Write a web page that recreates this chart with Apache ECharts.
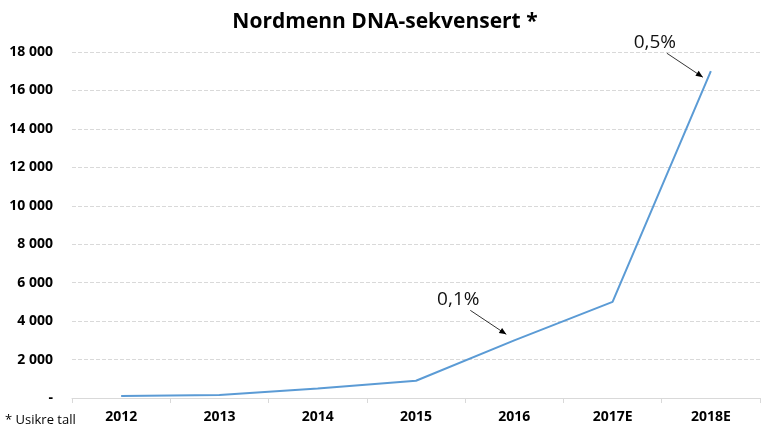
<!DOCTYPE html>
<html><head><meta charset="utf-8">
<script src="https://cdn.jsdelivr.net/npm/echarts@6/dist/echarts.min.js"></script>
<style>html,body{margin:0;padding:0;background:#fff}#c{width:770px;height:433px}</style>
</head><body><div id="c"></div>
<script>
var categories = ['2012','2013','2014','2015','2016','2017E','2018E'];
var values = [100, 150, 500, 900, 3000, 5000, 17000];
var yTicks = [0, 2000, 4000, 6000, 8000, 10000, 12000, 14000, 16000, 18000];
var annotations = [
  {label: '0,1%', index: 4, value: 3000},
  {label: '0,5%', index: 6, value: 17000}
];
var FONT = '"Open Sans", "Noto Sans", sans-serif';
var chart = echarts.init(document.getElementById('c'));
function fmt(v){ if(v===0) return '-'; var s=String(v); return s.replace(/\B(?=(\d{3})+(?!\d))/g,' '); }
chart.setOption({
  animation:false,
  title:{text:'Nordmenn DNA-sekvensert *',left:'center',top:7,textStyle:{fontFamily:FONT,fontWeight:'bold',fontSize:21,color:'#000'}},
  grid:{left:72,right:10,top:52,bottom:35},
  xAxis:{type:'category',data:categories,boundaryGap:true,
    axisLine:{lineStyle:{color:'#d9d9d9'}},
    axisTick:{show:true,length:5,lineStyle:{color:'#d9d9d9'}},
    axisLabel:{fontFamily:FONT,fontWeight:'bold',fontSize:14,color:'#000',margin:12}},
  yAxis:{type:'value',min:yTicks[0],max:yTicks[yTicks.length-1],interval:2000,
    axisLine:{show:false},axisTick:{show:false},
    splitLine:{lineStyle:{color:'#d9d9d9',type:'dashed'}},
    axisLabel:{fontFamily:FONT,fontWeight:'bold',fontSize:14,color:'#000',margin:19,formatter:fmt}},
  series:[{type:'line',data:values,symbol:'none',lineStyle:{color:'#5b9bd5',width:2},itemStyle:{color:'#5b9bd5'}}]
});
var els=[{type:'text',left:5,top:414,style:{text:'* Usikre tall',font:'13px '+FONT,fill:'#000'}}];
annotations.forEach(function(a){
  var p = chart.convertToPixel({gridIndex:0},[a.index,a.value]);
  var ex = p[0]-8, ey = p[1]+ (a.index===4? -6: 6);
  var sx = ex-36, sy = ey-24;
  els.push({type:'line',shape:{x1:sx,y1:sy,x2:ex,y2:ey},style:{stroke:'#000',lineWidth:0.8}});
  var ang=Math.atan2(ey-sy,ex-sx), L=7, W=3;
  var bx=ex-L*Math.cos(ang), by=ey-L*Math.sin(ang);
  els.push({type:'polygon',shape:{points:[[ex,ey],[bx+W*Math.sin(ang),by-W*Math.cos(ang)],[bx-W*Math.sin(ang),by+W*Math.cos(ang)]]},style:{fill:'#000'}});
  els.push({type:'text',x:sx-12,y:sy-11,style:{text:a.label,font:'19px '+FONT,fill:'#111',align:'center',verticalAlign:'middle'}});
});
chart.setOption({graphic:els},{replaceMerge:['graphic']});
</script></body></html>
